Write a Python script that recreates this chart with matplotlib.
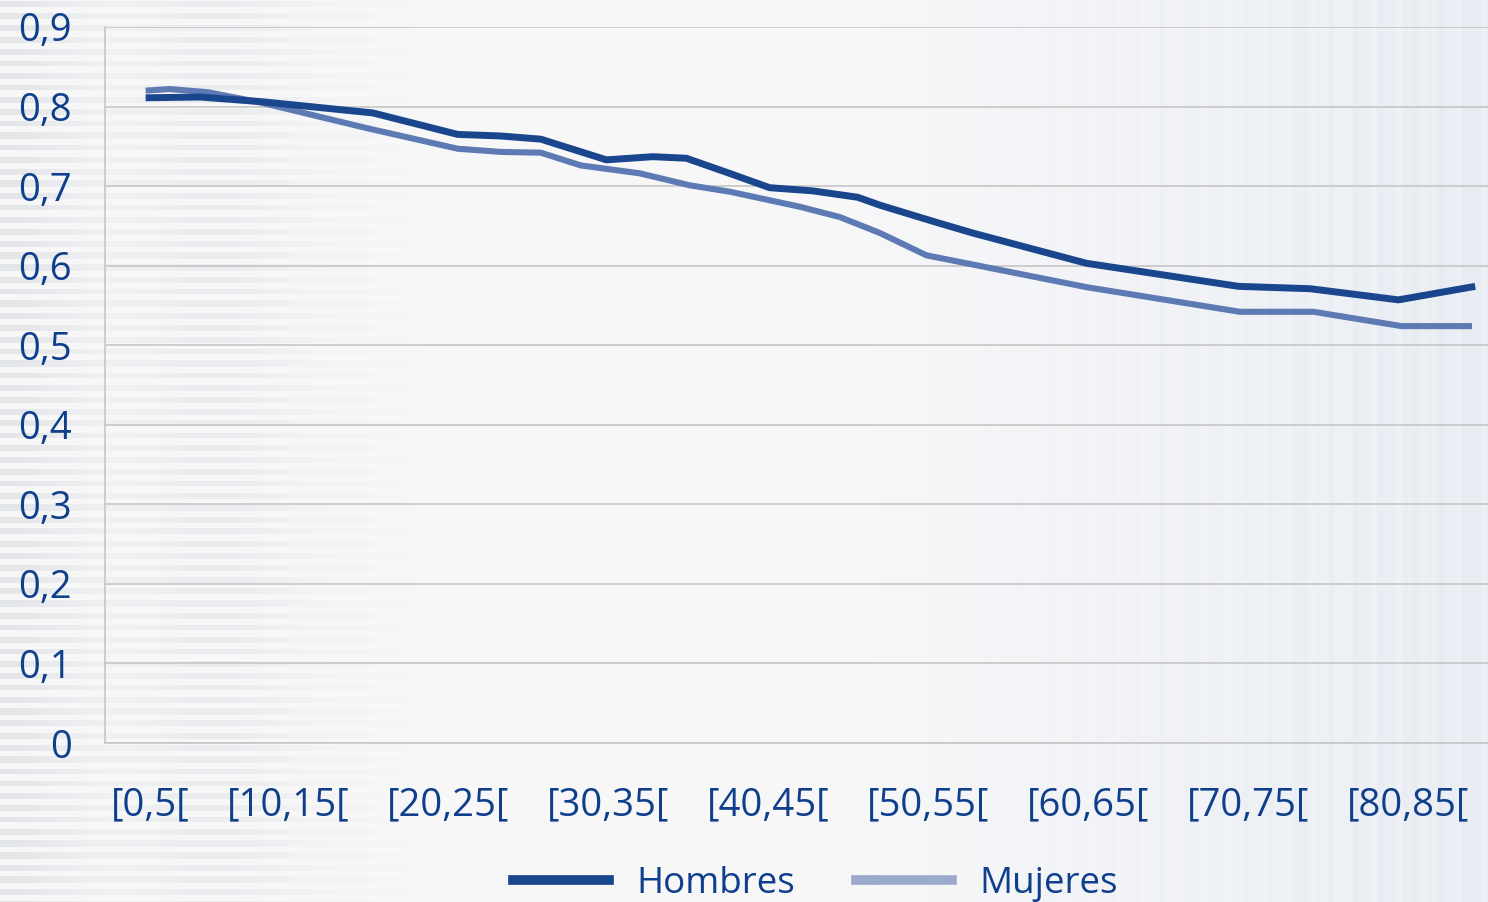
import numpy as np
import matplotlib.pyplot as plt
from matplotlib.lines import Line2D

# age position (years) and value for each series
hombres_x = [1.1, 4.5, 8.4, 15.3, 20.6, 23.3, 25.8, 29.9, 32.8, 34.9, 37.6, 40.1,
             42.8, 45.6, 47.0, 50.6, 52.8, 59.9, 69.4, 73.9, 79.4, 84.2]
hombres_y = [0.811, 0.812, 0.806, 0.792, 0.765, 0.763, 0.759, 0.733, 0.737, 0.735,
             0.716, 0.698, 0.694, 0.686, 0.676, 0.654, 0.641, 0.603, 0.574, 0.571,
             0.557, 0.574]

mujeres_x = [1.1, 2.6, 5.0, 8.3, 14.9, 20.6, 23.3, 25.8, 28.3, 32.0, 35.1, 37.6, 42.0,
             44.5, 47.0, 49.9, 59.9, 69.5, 74.1, 79.6, 84.0]
mujeres_y = [0.820, 0.822, 0.818, 0.805, 0.773, 0.747, 0.743, 0.742, 0.726, 0.716, 0.701,
             0.693, 0.674, 0.661, 0.641, 0.613, 0.573, 0.542, 0.542, 0.524, 0.524]

tick_pos = [1.4, 10, 20, 30, 40, 50, 60, 70, 80]
tick_labels = ['[0,5[', '[10,15[', '[20,25[', '[30,35[', '[40,45[',
               '[50,55[', '[60,65[', '[70,75[', '[80,85[']
y_ticks = [0, 0.1, 0.2, 0.3, 0.4, 0.5, 0.6, 0.7, 0.8, 0.9]

dark = '#1a468e'
light = '#5e7ab4'
text_col = '#0f3f8c'
font = 'Open Sans'

W, H = 1488, 902
fig = plt.figure(figsize=(W / 100, H / 100), dpi=100)

# background texture: horizontal stripes on the left, vertical on the right
xx = np.arange(W)[None, :]
yy = np.arange(H)[:, None]
base = np.ones((H, W, 3)) * np.array([0.972, 0.972, 0.976])
hstripe = (np.sin(2 * np.pi * yy / 12.0) > 0).astype(float)
wl = np.clip(1 - xx / 420.0, 0, 1) ** 0.6
wl = wl * (0.75 + 0.25 * np.cos(2 * np.pi * xx / 230.0))
dark_h = np.array([0.890, 0.900, 0.915])
mask_l = (wl * hstripe)[..., None]
base = base * (1 - mask_l) + dark_h * mask_l
wr = np.clip((xx - 820) / 668.0, 0, 1)
vstripe = 0.5 + 0.5 * np.sin(2 * np.pi * xx / 17.0) * np.cos(2 * np.pi * xx / 43.0)
tint = np.array([0.88, 0.905, 0.94])
mask_r = (wr * (0.45 + 0.35 * vstripe))[..., None] * np.ones((H, 1, 1))
base = base * (1 - mask_r) + tint * mask_r
bg = fig.add_axes([0, 0, 1, 1])
bg.imshow(base, aspect='auto', interpolation='nearest')
bg.axis('off')

ax = fig.add_axes([105 / W, (H - 743) / H, (W - 105) / W, (743 - 27) / H])
ax.patch.set_alpha(0)
ax.plot(hombres_x, hombres_y, color=dark, lw=5.0, solid_capstyle='butt', zorder=3)
ax.plot(mujeres_x, mujeres_y, color=light, lw=4.4, solid_capstyle='butt', zorder=2)

ax.set_xlim(-1.44, 85)
ax.set_ylim(0, 0.9)
ax.set_yticks(y_ticks)
ax.set_yticklabels([('%g' % v).replace('.', ',') for v in y_ticks])
ax.set_xticks(tick_pos)
ax.set_xticklabels(tick_labels)
ax.grid(axis='y', color='#c6c6c6', lw=1.2)
ax.set_axisbelow(True)
for s in ['top', 'right']:
    ax.spines[s].set_visible(False)
for s in ['left', 'bottom']:
    ax.spines[s].set_color('#c6c6c6')
    ax.spines[s].set_linewidth(1.2)
ax.tick_params(length=0, labelcolor=text_col, labelsize=27.5)
ax.tick_params(axis='y', pad=24)
ax.tick_params(axis='x', pad=31)
for lab in ax.get_xticklabels() + ax.get_yticklabels():
    lab.set_family(font)

handles = [Line2D([], [], color=dark, lw=7),
           Line2D([], [], color='#9aaacc', lw=7)]
fig.legend(handles, ['Hombres', 'Mujeres'], loc='center', bbox_to_anchor=(0.548, 0.02),
           ncol=2, frameon=False, prop={'family': font, 'size': 26.5},
           labelcolor=text_col, handlelength=2.6, handletextpad=0.75, columnspacing=1.65)

fig.savefig('out.png', dpi=100)
